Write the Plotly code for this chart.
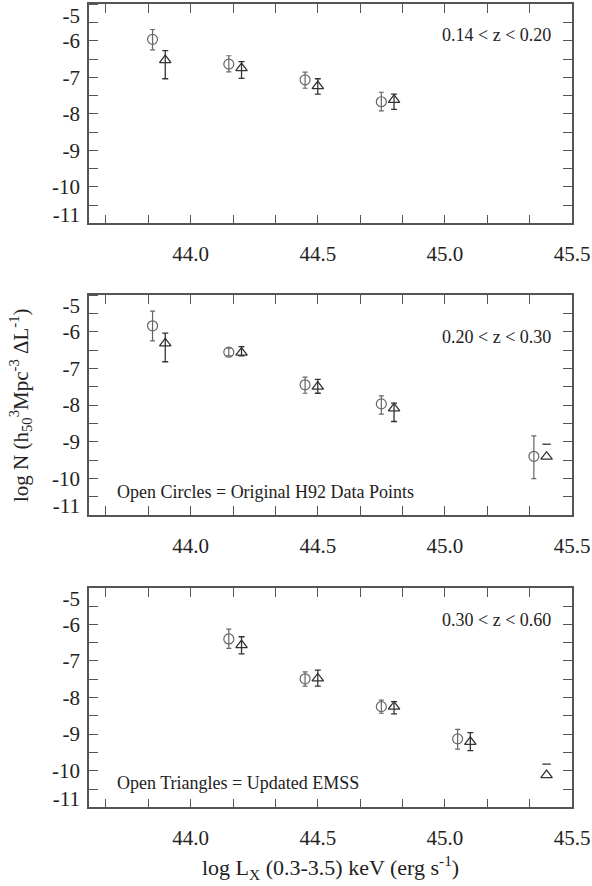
import plotly.graph_objects as go

# ---------------- data ----------------
panel_labels = ["0.14 < z < 0.20", "0.20 < z < 0.30", "0.30 < z < 0.60"]

# Panel 1 (0.14 < z < 0.20)
circ_x1 = [43.85, 44.15, 44.45, 44.75]
circ_y1 = [-5.96, -6.64, -7.07, -7.67]
circ_ep1 = [0.27, 0.23, 0.21, 0.26]
circ_em1 = [0.29, 0.21, 0.23, 0.25]
tri_x1 = [43.9, 44.2, 44.5, 44.8]
tri_y1 = [-6.53, -6.75, -7.24, -7.62]
tri_ep1 = [0.26, 0.18, 0.20, 0.16]
tri_em1 = [0.51, 0.28, 0.22, 0.26]

# Panel 2 (0.20 < z < 0.30)
circ_x2 = [43.85, 44.15, 44.45, 44.75, 45.35]
circ_y2 = [-5.84, -6.56, -7.45, -7.97, -9.40]
circ_ep2 = [0.40, 0.11, 0.21, 0.22, 0.56]
circ_em2 = [0.41, 0.10, 0.23, 0.28, 0.61]
tri_x2 = [43.9, 44.2, 44.5, 44.8, 45.4]
tri_y2 = [-6.32, -6.57, -7.50, -8.09, -9.41]
tri_ep2 = [0.28, 0.16, 0.20, 0.14, 0.34]
tri_em2 = [0.50, 0.09, 0.18, 0.36, 0.0]

# Panel 3 (0.30 < z < 0.60)
circ_x3 = [44.15, 44.45, 44.75, 45.05]
circ_y3 = [-6.40, -7.49, -8.25, -9.13]
circ_ep3 = [0.27, 0.19, 0.18, 0.26]
circ_em3 = [0.26, 0.20, 0.18, 0.28]
tri_x3 = [44.2, 44.5, 44.8, 45.1, 45.4]
tri_y3 = [-6.57, -7.48, -8.25, -9.21, -10.12]
tri_ep3 = [0.23, 0.23, 0.14, 0.25, 0.30]
tri_em3 = [0.24, 0.21, 0.20, 0.24, 0.0]

x_tickvals = [44.0, 44.5, 45.0, 45.5]
x_ticktext = ["44.0", "44.5", "45.0", "45.5"]
y_tickvals = [-5.3, -6, -7, -8, -9, -10, -10.75]
y_ticktext = ["-5", "-6", "-7", "-8", "-9", "-10", "-11"]

panels = [
    (circ_x1, circ_y1, circ_ep1, circ_em1, tri_x1, tri_y1, tri_ep1, tri_em1),
    (circ_x2, circ_y2, circ_ep2, circ_em2, tri_x2, tri_y2, tri_ep2, tri_em2),
    (circ_x3, circ_y3, circ_ep3, circ_em3, tri_x3, tri_y3, tri_ep3, tri_em3),
]

# ---------------- layout geometry ----------------
W, H = 592, 886
x_dom = [89 / W, 572 / W]
y_px = [(4.3, 223.3), (295, 515), (587.7, 807.3)]
y_doms = [[1 - b / H, 1 - t / H] for t, b in y_px]
label_y = [0.86, 0.81, 0.853]
XR = [43.6, 45.5]
YR = [-11, -5]

FONT = '"Liberation Serif", "Times New Roman", serif'
circ_col = "#666666"
tri_col = "#333333"
frame_col = "#555555"
txt_col = "#222222"

fig = go.Figure()
for i, (cx, cy, cep, cem, tx, ty, tep, tem) in enumerate(panels):
    xa = "x" if i == 0 else f"x{i+1}"
    ya = "y" if i == 0 else f"y{i+1}"
    fig.add_trace(go.Scatter(
        x=cx, y=cy, mode="markers", xaxis=xa, yaxis=ya, showlegend=False,
        marker=dict(symbol="circle-open", size=10, color=circ_col, line=dict(width=1.2, color=circ_col)),
        error_y=dict(type="data", symmetric=False, array=cep, arrayminus=cem,
                     color=circ_col, thickness=1.2, width=2.5),
    ))
    # points with two-sided errors get normal error bars; one-sided ones only a cap
    two = [k for k in range(len(tx)) if tem[k] > 0]
    one = [k for k in range(len(tx)) if tem[k] == 0]
    fig.add_trace(go.Scatter(
        x=[tx[k] for k in two], y=[ty[k] for k in two], mode="markers",
        xaxis=xa, yaxis=ya, showlegend=False,
        marker=dict(symbol="triangle-up-open", size=10, color=tri_col, line=dict(width=1.3, color=tri_col)),
        error_y=dict(type="data", symmetric=False, array=[tep[k] for k in two],
                     arrayminus=[tem[k] for k in two],
                     color=tri_col, thickness=1.3, width=3),
    ))
    if one:
        fig.add_trace(go.Scatter(
            x=[tx[k] for k in one], y=[ty[k] for k in one], mode="markers",
            xaxis=xa, yaxis=ya, showlegend=False,
            marker=dict(symbol="triangle-up-open", size=10, color=tri_col,
                        line=dict(width=1.3, color=tri_col)),
        ))
        fig.add_trace(go.Scatter(
            x=[tx[k] for k in one], y=[ty[k] + tep[k] for k in one], mode="markers",
            xaxis=xa, yaxis=ya, showlegend=False,
            marker=dict(symbol="line-ew", size=6, color=tri_col,
                        line=dict(width=1.3, color=tri_col)),
        ))

tick_common = dict(ticks="inside", ticklen=9, tickwidth=1.2, tickcolor=frame_col)

for i in range(3):
    sfx = "" if i == 0 else str(i + 1)
    osfx = str(i + 4)  # overlay axes for top / right ticks
    main_x = "x" + sfx
    main_y = "y" + sfx
    fig.update_layout(**{
        f"xaxis{sfx}": dict(
            domain=x_dom, anchor=main_y, range=XR, automargin=False,
            tickmode="array", tickvals=x_tickvals, ticktext=x_ticktext,
            **tick_common,
            minor=dict(tick0=44.0, dtick=0.5 / 3, showgrid=False, **tick_common),
            showline=True, linecolor=frame_col, linewidth=1.6, mirror=True,
            showgrid=False, zeroline=False,
            tickfont=dict(family=FONT, size=21, color=txt_col),
            ticklabelstandoff=11,
        ),
        f"yaxis{sfx}": dict(
            domain=y_doms[i], anchor=main_x, range=YR, automargin=False,
            tickmode="array", tickvals=y_tickvals, ticktext=y_ticktext,
            ticks="",
            minor=dict(tick0=-11, dtick=0.5, showgrid=False, **tick_common),
            showline=True, linecolor=frame_col, linewidth=1.6, mirror=True,
            showgrid=False, zeroline=False,
            tickfont=dict(family=FONT, size=21, color=txt_col),
            ticklabelstandoff=3,
        ),
        # top ticks
        f"xaxis{osfx}": dict(
            overlaying=main_x, side="top", anchor=main_y, range=XR, automargin=False,
            tickmode="linear", tick0=44.0, dtick=0.5 / 3, **tick_common,
            showticklabels=False, showgrid=False, zeroline=False, showline=False,
        ),
        # right ticks
        f"yaxis{osfx}": dict(
            overlaying=main_y, side="right", anchor=main_x, range=YR, automargin=False,
            tickmode="linear", tick0=-11, dtick=0.5, **tick_common,
            showticklabels=False, showgrid=False, zeroline=False, showline=False,
        ),
    })
    # invisible trace so the overlay axes are drawn
    fig.add_trace(go.Scatter(x=[XR[0]], y=[YR[0]], xaxis="x" + osfx, yaxis="y" + osfx,
                             mode="markers", marker=dict(opacity=0), showlegend=False,
                             hoverinfo="skip"))
    fig.add_annotation(
        xref=f"x{sfx} domain", yref=f"y{sfx} domain", x=0.96, y=label_y[i],
        xanchor="right", yanchor="middle", text=panel_labels[i], showarrow=False,
        font=dict(family=FONT, size=18, color=txt_col),
    )

fig.add_annotation(
    xref="x2 domain", yref="y2 domain", x=0.053, y=0.105, xanchor="left", yanchor="middle",
    text="Open Circles = Original H92 Data Points", showarrow=False,
    font=dict(family=FONT, size=18, color=txt_col),
)
fig.add_annotation(
    xref="x3 domain", yref="y3 domain", x=0.053, y=0.11, xanchor="left", yanchor="middle",
    text="Open Triangles = Updated EMSS", showarrow=False,
    font=dict(family=FONT, size=18, color=txt_col),
)

# axis titles
fig.add_annotation(
    xref="paper", yref="paper", x=20 / W, y=1 - 405 / H, xanchor="center", yanchor="middle",
    textangle=-90, showarrow=False,
    text="log N (h<sub>50</sub><sup>3</sup>Mpc<sup>-3</sup> ΔL<sup>-1</sup>)",
    font=dict(family=FONT, size=21, color=txt_col),
)
fig.add_annotation(
    xref="paper", yref="paper", x=330 / W, y=1 - 867 / H, xanchor="center", yanchor="middle",
    showarrow=False,
    text="log L<sub>X</sub> (0.3-3.5) keV (erg s<sup>-1</sup>)",
    font=dict(family=FONT, size=22, color=txt_col),
)

fig.update_layout(
    width=W, height=H, margin=dict(l=0, r=0, t=0, b=0, autoexpand=False),
    paper_bgcolor="white", plot_bgcolor="white",
)

fig.write_html("out.html")
